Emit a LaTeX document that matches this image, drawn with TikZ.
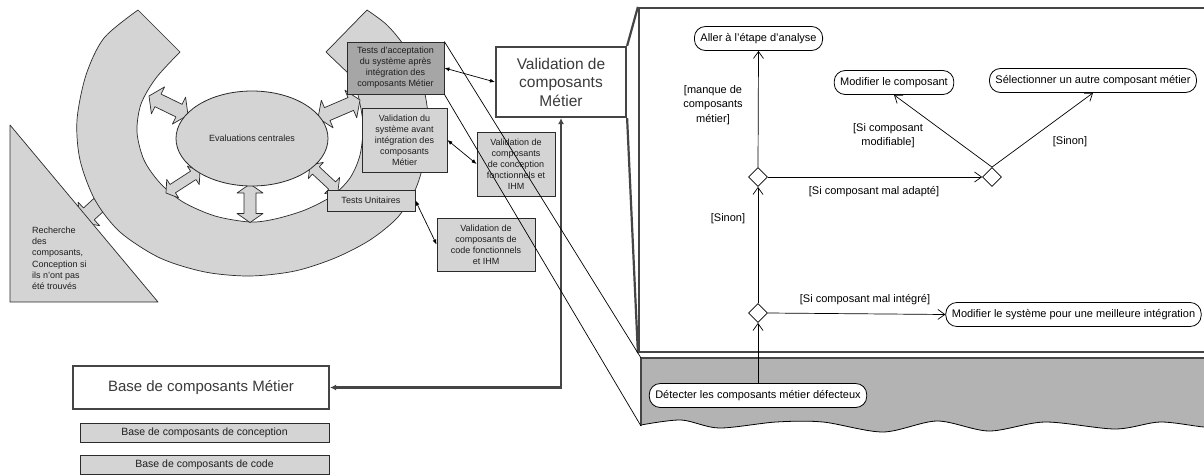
\documentclass[tikz,border=0pt]{standalone}
\usepackage{fontspec}
\setmainfont{Liberation Sans}
\usetikzlibrary{arrows.meta,shapes.geometric,calc}
\definecolor{lg}{HTML}{D4D4D4}
\definecolor{dg}{HTML}{A6A6A6}
\definecolor{rg}{HTML}{B3B3B3}
\definecolor{ln}{HTML}{2B2B2B}
\definecolor{thk}{HTML}{454545}
\definecolor{txt}{HTML}{1E1E1E}
\definecolor{txtb}{HTML}{3A3A3A}
% double block arrow: x1 y1 x2 y2 shaft-half head-half head-length
\newcommand\dblblock[7]{%
\pgfmathsetmacro\dbang{atan2(-(#4-#2),#3-#1)}%
\pgfmathsetmacro\dblen{veclen(#3-#1,#4-#2)}%
\begin{scope}[shift={(#1,#2)},rotate=\dbang]
\draw[blk] (0,0) -- (#7,#6) -- (#7,#5) -- (\dblen-#7,#5) -- (\dblen-#7,#6) -- (\dblen,0) -- (\dblen-#7,-#6) -- (\dblen-#7,-#5) -- (#7,-#5) -- (#7,-#6) -- cycle;
\end{scope}}
% single block arrow, head at (x2,y2)
\newcommand\oneblock[7]{%
\pgfmathsetmacro\dbang{atan2(-(#4-#2),#3-#1)}%
\pgfmathsetmacro\dblen{veclen(#3-#1,#4-#2)}%
\begin{scope}[shift={(#1,#2)},rotate=\dbang]
\draw[blk] (0,#5) -- (\dblen-#7,#5) -- (\dblen-#7,#6) -- (\dblen,0) -- (\dblen-#7,-#6) -- (\dblen-#7,-#5) -- (0,-#5) -- cycle;
\end{scope}}
\begin{document}
\begin{tikzpicture}[x=1pt,y=-1pt,
  font=\fontsize{9}{11}\selectfont,
  blk/.style={draw=ln, fill=lg, line width=0.7pt, line join=round},
  sbox/.style={draw=ln, fill=lg, line width=0.8pt, align=center, inner sep=0pt, text=txt},
  bigbox/.style={draw=thk, fill=white, line width=2.2pt, align=center, inner sep=0pt, text=txtb, font=\fontsize{15.5}{18.5}\selectfont},
  pill/.style={draw=black, line width=0.8pt, rounded corners=11pt, fill=white, inner xsep=6pt, inner ysep=0pt, minimum height=24pt, font=\fontsize{11}{13}\selectfont},
  dia/.style={diamond, draw=black, fill=white, line width=0.8pt, minimum width=19pt, minimum height=19pt, inner sep=0pt},
  uml/.style={draw=black, line width=0.7pt, -{Straight Barb[length=7pt,width=10pt]}},
  lbl/.style={font=\fontsize{11}{14.5}\selectfont, align=center, inner sep=0pt},
  dbl/.style={draw=black, line width=0.7pt, {Latex[length=5pt,width=4pt]}-{Latex[length=5pt,width=4pt]}},
  thickconn/.style={draw=thk, line width=2.2pt},
]
\useasboundingbox (0,0) rectangle (1204,474);
\clip (0,0) rectangle (1204,474);
\fill[white] (0,0) rectangle (1204,474);

% small arrow towards the triangle (mostly hidden)
\oneblock{115}{190}{80}{222}{8}{16}{12}

% the curved band
\draw[blk] plot[smooth] coordinates {(138,10) (104,38) (86,75) (77,120) (80,160) (95,200) (120,232) (160,258) (205,272) (250,276) (295,271) (335,258) (370,240) (398,217) (416,188) (426,152) (428,115) (421,78) (405,47) (387,25) (367,10)}
  -- (326,52) -- (350,75)
  -- plot[smooth] coordinates {(350,75) (358,95) (363,125) (360,155) (350,178) (332,196) (305,210) (275,219) (250,222) (215,216) (183,202) (160,183) (144,160) (137,132) (141,104) (156,78) (180,52)}
  -- cycle;

% triangle
\draw[blk] (10,125) -- (10,302) -- (158,302) -- cycle;
\node[anchor=north west, align=left, inner sep=0pt, text=txt, font=\fontsize{9}{11.3}\selectfont] (rech) at (32,226.5) {Recherche\\des\\composants,\\Conception si\\ils n’ont pas\\été trouvés};

% block arrows around the ellipse
\dblblock{149}{96}{188}{115}{7}{15}{10}
\dblblock{200}{171}{166}{193}{5}{11}{8}
\dblblock{250}{184}{250}{222.5}{6}{13}{9}
\dblblock{310}{165}{338}{191}{5}{11}{8}
\dblblock{318}{118}{360}{100}{7}{15}{10}

\node[ellipse, draw=ln, fill=lg, line width=0.8pt, minimum width=152pt, minimum height=95pt, inner sep=0pt, text=txt] (eval) at (252,138.5) {Evaluations centrales};

% boxes
\node[sbox, fill=dg, minimum width=97pt, minimum height=52pt] (tacc) at (395.5,68) {Tests d’acceptation\\du système après\\intégration des\\composants Métier};
\node[sbox, minimum width=85pt, minimum height=64pt] (vsys) at (404.5,140) {Validation du\\système avant\\intégration des\\composants\\Métier};
\node[sbox, minimum width=88pt, minimum height=21pt] (tunit) at (371,200.5) {Tests Unitaires};
\node[sbox, minimum width=78pt, minimum height=64pt] (vconc) at (516,164) {Validation de\\composants\\de conception\\fonctionnels et\\IHM};
\node[sbox, minimum width=98pt, minimum height=53pt] (vcode) at (486,244.5) {Validation de\\composants de\\code fonctionnels\\et IHM};

\node[bigbox, minimum width=130pt, minimum height=70pt] (valm) at (561,82) {Validation de\\composants\\Métier};
\node[bigbox, minimum width=256pt, minimum height=43pt, font=\fontsize{15}{18}\selectfont] (basem) at (201,387.5) {Base de composants Métier};
\node[sbox, minimum width=249pt, minimum height=19pt, font=\fontsize{10.5}{13}\selectfont] (bconc) at (204.5,433) {Base de composants de conception};
\node[sbox, minimum width=249pt, minimum height=19pt, font=\fontsize{10.5}{13}\selectfont] (bcode) at (204.5,464.5) {Base de composants de code};

% connectors between boxes
\draw[dbl] (tacc.east) -- (valm.west);
\draw[dbl] (vsys.east) -- (vconc.west);
\draw[dbl] (tunit.east) -- (vcode.west);
\draw[thickconn, {Latex[length=6pt,width=6pt]}-{Latex[length=6pt,width=6pt]}] (basem.east) -| (valm.south);

% zoom frame
\node[draw=thk, line width=2.2pt, minimum width=576pt, minimum height=344pt, inner sep=0pt] (frame) at (927,180) {};
\coordinate (gtl) at (641,358);
\coordinate (gbl) at (641,426);
\fill[rg] (641,358) -- (1215,358) -- (1215,425) -- plot[smooth] coordinates {(1204,427) (1160,422) (1115,429) (1045,422) (989,431) (937,421) (883,432) (823,422) (776,422) (719,428) (681,420) (641,425)} -- cycle;
\draw[black, line width=0.8pt] plot[smooth] coordinates {(641,425) (681,420) (719,428) (776,422) (823,422) (883,432) (937,421) (989,431) (1045,422) (1115,429) (1160,422) (1204,427) (1215,425)};
\draw[thickconn] (1215,358) -- (gtl) -- (gbl);

\draw[thickconn] (valm.north east) -- (frame.north west);
\draw[thickconn] (valm.south east) -- (frame.south west);

% activity diagram
\node[pill] (aller) at (758.5,38.5) {Aller à l'étape d'analyse};
\node[pill] (modc) at (894,82.5) {Modifier le composant};
\node[pill] (sel) at (1093,80.5) {Sélectionner un autre composant métier};
\node[pill] (mods) at (1073.5,314.5) {Modifier le système pour une meilleure intégration};
\node[pill] (detect) at (758,395.5) {Détecter les composants métier défecteux};
\node[dia] (d1) at (758,177) {};
\node[dia] (d2) at (992,177) {};
\node[dia] (d3) at (758,313) {};

\draw[uml] (d1.north) -- (aller.south);
\draw[uml] (d3.north) -- (d1.south);
\draw[uml] (detect.north) -- (d3.south);
\draw[uml] (d1.east) -- (d2.west);
\draw[uml] (d2.north) -- (modc.south);
\draw[uml] (d2.north) -- (sel.south);
\draw[uml] (d3.east) -- (mods.west);

\node[lbl] (l1) at (713,105) {[manque de\\composants\\métier]};
\node[lbl] (l2) at (888,135.5) {[Si composant\\modifiable]};
\node[lbl] (l3) at (1070,142) {[Sinon]};
\node[lbl] (l4) at (874,192) {[Si composant mal adapté]};
\node[lbl] (l5) at (728,219) {[Sinon]};
\node[lbl] (l6) at (865,300) {[Si composant mal intégré]};

% thin callout lines
\draw[black, line width=0.7pt] (tacc.north east) -- (gtl);
\draw[black, line width=0.7pt] (tacc.south east) -- (gbl);
\end{tikzpicture}
\end{document}
